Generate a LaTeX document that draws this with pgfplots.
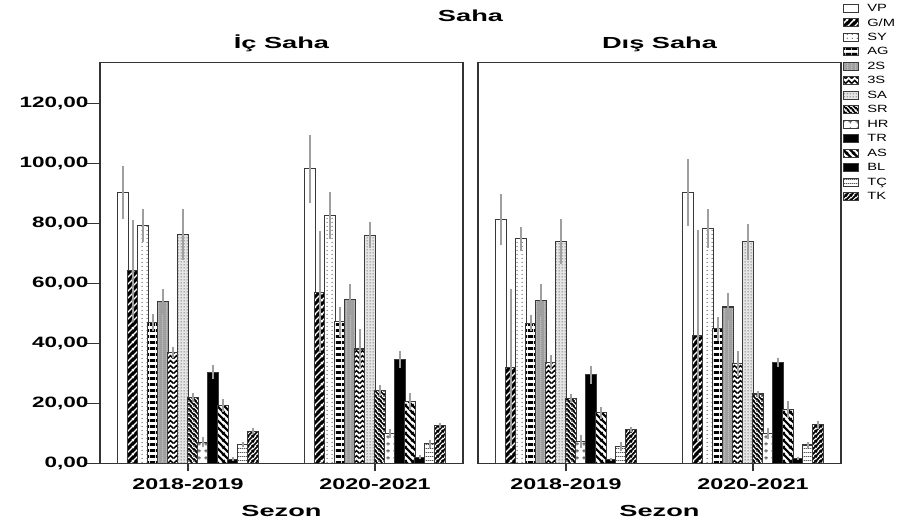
\documentclass[border=0pt]{standalone}
\usepackage{pgfplots}
\pgfplotsset{compat=1.18}
\usepackage{pgfplotstable}
\usetikzlibrary{patterns}
\usepackage{fontspec}
\setmainfont{Liberation Sans}
\newfontfamily\tickfont{Liberation Sans Bold}[FakeStretch=1.5]
\newfontfamily\titlefont{Liberation Sans Bold}[FakeStretch=1.7]
\newfontfamily\legfont{Liberation Sans}[FakeStretch=1.4]

% ---------- fill patterns ----------
% rising diagonal stripes, light on dark
\pgfdeclarepatternformonly{ne slash}{\pgfpoint{0pt}{0pt}}{\pgfpoint{7pt}{7pt}}{\pgfpoint{7pt}{7pt}}{%
  \pgfsetlinewidth{1.4pt}%
  \pgfpathmoveto{\pgfpoint{-1pt}{-1pt}}\pgfpathlineto{\pgfpoint{8pt}{8pt}}%
  \pgfpathmoveto{\pgfpoint{-1pt}{6pt}}\pgfpathlineto{\pgfpoint{1pt}{8pt}}%
  \pgfpathmoveto{\pgfpoint{6pt}{-1pt}}\pgfpathlineto{\pgfpoint{8pt}{1pt}}%
  \pgfusepath{stroke}}
% rising diagonal stripes, dense
\pgfdeclarepatternformonly{ne mid}{\pgfpoint{0pt}{0pt}}{\pgfpoint{4.5pt}{4.5pt}}{\pgfpoint{4.5pt}{4.5pt}}{%
  \pgfsetlinewidth{1.9pt}%
  \pgfpathmoveto{\pgfpoint{-1pt}{-1pt}}\pgfpathlineto{\pgfpoint{5.5pt}{5.5pt}}%
  \pgfpathmoveto{\pgfpoint{-1pt}{3.5pt}}\pgfpathlineto{\pgfpoint{1pt}{5.5pt}}%
  \pgfpathmoveto{\pgfpoint{3.5pt}{-1pt}}\pgfpathlineto{\pgfpoint{5.5pt}{1pt}}%
  \pgfusepath{stroke}}
% falling diagonal stripes, dense
\pgfdeclarepatternformonly{nw mid}{\pgfpoint{0pt}{0pt}}{\pgfpoint{4.5pt}{4.5pt}}{\pgfpoint{4.5pt}{4.5pt}}{%
  \pgfsetlinewidth{1.1pt}%
  \pgfpathmoveto{\pgfpoint{-1pt}{5.5pt}}\pgfpathlineto{\pgfpoint{5.5pt}{-1pt}}%
  \pgfpathmoveto{\pgfpoint{-1pt}{1pt}}\pgfpathlineto{\pgfpoint{1pt}{-1pt}}%
  \pgfpathmoveto{\pgfpoint{3.5pt}{5.5pt}}\pgfpathlineto{\pgfpoint{5.5pt}{3.5pt}}%
  \pgfusepath{stroke}}
% falling diagonal stripes, wide
\pgfdeclarepatternformonly{nw thick}{\pgfpoint{0pt}{0pt}}{\pgfpoint{7pt}{7pt}}{\pgfpoint{7pt}{7pt}}{%
  \pgfsetlinewidth{2.4pt}%
  \pgfpathmoveto{\pgfpoint{-1pt}{8pt}}\pgfpathlineto{\pgfpoint{8pt}{-1pt}}%
  \pgfpathmoveto{\pgfpoint{-1pt}{1pt}}\pgfpathlineto{\pgfpoint{1pt}{-1pt}}%
  \pgfpathmoveto{\pgfpoint{6pt}{8pt}}\pgfpathlineto{\pgfpoint{8pt}{6pt}}%
  \pgfusepath{stroke}}
% thick horizontal bands
\pgfdeclarepatternformonly{h thick}{\pgfpoint{0pt}{0pt}}{\pgfpoint{6pt}{6pt}}{\pgfpoint{6pt}{6pt}}{%
  \pgfpathrectangle{\pgfpoint{0pt}{0pt}}{\pgfpoint{6pt}{3.3pt}}\pgfusepath{fill}}
% thin horizontal lines
\pgfdeclarepatternformonly{h thin}{\pgfpoint{0pt}{0pt}}{\pgfpoint{2pt}{3.5pt}}{\pgfpoint{2pt}{3.5pt}}{%
  \pgfpathrectangle{\pgfpoint{0pt}{0pt}}{\pgfpoint{2pt}{0.9pt}}\pgfusepath{fill}}
% thin vertical lines
\pgfdeclarepatternformonly{v thin}{\pgfpoint{0pt}{0pt}}{\pgfpoint{3.5pt}{2pt}}{\pgfpoint{3.5pt}{2pt}}{%
  \pgfpathrectangle{\pgfpoint{0pt}{0pt}}{\pgfpoint{1.2pt}{2pt}}\pgfusepath{fill}}
% zigzag
\pgfdeclarepatternformonly{zig}{\pgfpoint{0pt}{0pt}}{\pgfpoint{6pt}{5pt}}{\pgfpoint{6pt}{5pt}}{%
  \pgfsetlinewidth{1.7pt}%
  \pgfpathmoveto{\pgfpoint{-0.5pt}{0.5pt}}\pgfpathlineto{\pgfpoint{3pt}{4pt}}\pgfpathlineto{\pgfpoint{6.5pt}{0.5pt}}%
  \pgfusepath{stroke}}
% sparse dots
\pgfdeclarepatternformonly{dots sparse}{\pgfpoint{0pt}{0pt}}{\pgfpoint{5pt}{4pt}}{\pgfpoint{5pt}{4pt}}{%
  \pgfpathcircle{\pgfpoint{2.5pt}{2pt}}{0.75pt}\pgfusepath{fill}}
% dense dots
\pgfdeclarepatternformonly{dots dense}{\pgfpoint{0pt}{0pt}}{\pgfpoint{3pt}{3pt}}{\pgfpoint{3pt}{3pt}}{%
  \pgfpathcircle{\pgfpoint{1.5pt}{1.5pt}}{0.7pt}\pgfusepath{fill}}
% small plus signs
\pgfdeclarepatternformonly{plus}{\pgfpoint{0pt}{0pt}}{\pgfpoint{7pt}{7pt}}{\pgfpoint{7pt}{7pt}}{%
  \pgfsetlinewidth{0.9pt}%
  \pgfpathmoveto{\pgfpoint{1.5pt}{3.5pt}}\pgfpathlineto{\pgfpoint{5.5pt}{3.5pt}}%
  \pgfpathmoveto{\pgfpoint{3.5pt}{1.5pt}}\pgfpathlineto{\pgfpoint{3.5pt}{5.5pt}}%
  \pgfusepath{stroke}}

% ---------- one style per category ----------
\tikzset{
  barbase/.style={draw=gray!45!black, line width=1.1pt},
  sVP/.style={barbase, fill=white},
  sGM/.style={barbase, preaction={fill=black}, pattern=ne slash, pattern color=white},
  sSY/.style={barbase, preaction={fill=white}, pattern=dots sparse, pattern color=black!70},
  sAG/.style={barbase, preaction={fill=white}, pattern=h thick, pattern color=black},
  sTwoS/.style={barbase, preaction={fill=gray!75}, pattern=v thin, pattern color=gray!50},
  sThreeS/.style={barbase, preaction={fill=white}, pattern=zig, pattern color=black},
  sSA/.style={barbase, preaction={fill=gray!20}, pattern=dots dense, pattern color=gray!60!black},
  sSR/.style={barbase, preaction={fill=black}, pattern=nw mid, pattern color=white},
  sHR/.style={barbase, preaction={fill=white}, pattern=plus, pattern color=gray!60!black},
  sTR/.style={barbase, fill=black},
  sAS/.style={barbase, preaction={fill=white}, pattern=nw thick, pattern color=black},
  sBL/.style={barbase, fill=black},
  sTC/.style={barbase, preaction={fill=white}, pattern=h thin, pattern color=gray!70!black},
  sTK/.style={barbase, preaction={fill=white}, pattern=ne mid, pattern color=black},
}

% ---------- means and error half-widths, one table per venue ----------
\pgfplotstableread{
x VP VPe GM GMe SY SYe AG AGe TwoS TwoSe ThreeS ThreeSe SA SAe SR SRe HR HRe TR TRe AS ASe BL BLe TC TCe TK TKe
0 90.2 8.8 64.2 17.0 79.1 5.5 46.9 2.8 53.8 4.2 36.8 1.8 76.2 8.4 22.0 1.5 7.0 1.7 30.4 2.2 19.2 2.2 1.4 0.6 6.2 0.9 10.7 0.9
1 98.1 11.2 57.0 20.4 82.5 7.8 47.2 5.0 54.5 5.2 38.1 6.6 76.0 4.3 24.2 1.9 9.9 1.5 34.5 2.8 20.5 2.9 2.0 0.6 6.5 1.3 12.5 0.9
}\icsaha
\pgfplotstableread{
x VP VPe GM GMe SY SYe AG AGe TwoS TwoSe ThreeS ThreeSe SA SAe SR SRe HR HRe TR TRe AS ASe BL BLe TC TCe TK TKe
0 81.3 8.6 31.8 26.2 74.9 4.0 46.7 2.6 54.3 5.4 33.6 2.5 73.9 7.6 21.6 1.4 7.2 2.1 29.5 3.0 16.8 2.0 1.2 0.5 5.6 1.6 11.3 0.9
1 90.3 11.1 42.6 35.2 78.1 6.5 44.9 4.0 52.1 4.5 33.3 4.2 73.8 6.0 23.1 1.0 10.0 1.9 33.6 1.6 17.8 2.8 1.7 0.5 6.1 1.1 12.8 1.4
}\dissaha

\newcommand\seasonbars[1]{%
  \addplot[sVP]     table[x=x,y=VP,y error=VPe]{#1};
  \addplot[sGM]     table[x=x,y=GM,y error=GMe]{#1};
  \addplot[sSY]     table[x=x,y=SY,y error=SYe]{#1};
  \addplot[sAG]     table[x=x,y=AG,y error=AGe]{#1};
  \addplot[sTwoS]   table[x=x,y=TwoS,y error=TwoSe]{#1};
  \addplot[sThreeS] table[x=x,y=ThreeS,y error=ThreeSe]{#1};
  \addplot[sSA]     table[x=x,y=SA,y error=SAe]{#1};
  \addplot[sSR]     table[x=x,y=SR,y error=SRe]{#1};
  \addplot[sHR]     table[x=x,y=HR,y error=HRe]{#1};
  \addplot[sTR]     table[x=x,y=TR,y error=TRe]{#1};
  \addplot[sAS]     table[x=x,y=AS,y error=ASe]{#1};
  \addplot[sBL]     table[x=x,y=BL,y error=BLe]{#1};
  \addplot[sTC]     table[x=x,y=TC,y error=TCe]{#1};
  \addplot[sTK]     table[x=x,y=TK,y error=TKe]{#1};
}

\pgfplotsset{
  panel/.style={
    scale only axis, width=363pt, height=400.6pt,
    xmin=-0.47, xmax=1.47, ymin=0, ymax=133.5,
    ybar=-1pt, bar width=11pt,
    xtick={0,1}, xticklabels={2018-2019,2020-2021},
    xtick pos=lower, ytick pos=left,
    tick align=outside, major tick length=8pt,
    every tick/.style={draw=black!80, line width=1.2pt},
    axis line style={draw=black!80, line width=1.2pt},
    xticklabel style={font=\tickfont\fontsize{15.5}{16}\selectfont, anchor=base, yshift=-18.7pt},
    xlabel={Sezon},
    xlabel style={font=\titlefont\fontsize{16}{16}\selectfont, at={(axis description cs:0.5,0)}, anchor=base, yshift=-53.4pt},
    title style={font=\titlefont\fontsize{16}{16}\selectfont, at={(axis description cs:0.5,1)}, anchor=base, yshift=7.7pt},
    error bars/y dir=both, error bars/y explicit,
    error bars/error mark=none,
    error bars/error bar style={line width=2.6pt, draw=gray!75, solid},
  },
}

\begin{document}
\begin{tikzpicture}
\useasboundingbox (0,0) rectangle (903pt,524pt);

\begin{axis}[panel, at={(100pt,60.7pt)}, anchor=south west,
  title={İç Saha},
  ytick={0,20,...,120},
  y tick style={/pgfplots/major tick length=15pt},
  yticklabel style={font=\tickfont\fontsize{15}{15}\selectfont,
    /pgf/number format/.cd, fixed, fixed zerofill, precision=2, use comma, assume math mode=true},
]
\seasonbars{\icsaha}
\end{axis}

\begin{axis}[panel, at={(478pt,60.7pt)}, anchor=south west,
  title={Dış Saha},
  ytick=\empty,
  legend style={at={(axis description cs:1.0055,1.154)}, anchor=north west,
    draw=none, fill=none, inner sep=0pt,
    font=\legfont\fontsize{10.5}{10.5}\selectfont,
    nodes={inner sep=0pt, minimum height=14.5pt},
    /tikz/every odd column/.append style={column sep=8pt}},
  legend cell align=left,
  legend image code/.code={\draw[#1,/tikz/.cd,yshift=-4pt] (0pt,0pt) rectangle (15pt,8pt);},
]
\seasonbars{\dissaha}
\legend{VP,G/M,SY,AG,2S,3S,SA,SR,HR,TR,AS,BL,TÇ,TK}
\end{axis}

\node[font=\titlefont\fontsize{16}{16}\selectfont, anchor=base] at (470.5pt,502.3pt) {Saha};
\end{tikzpicture}
\end{document}
